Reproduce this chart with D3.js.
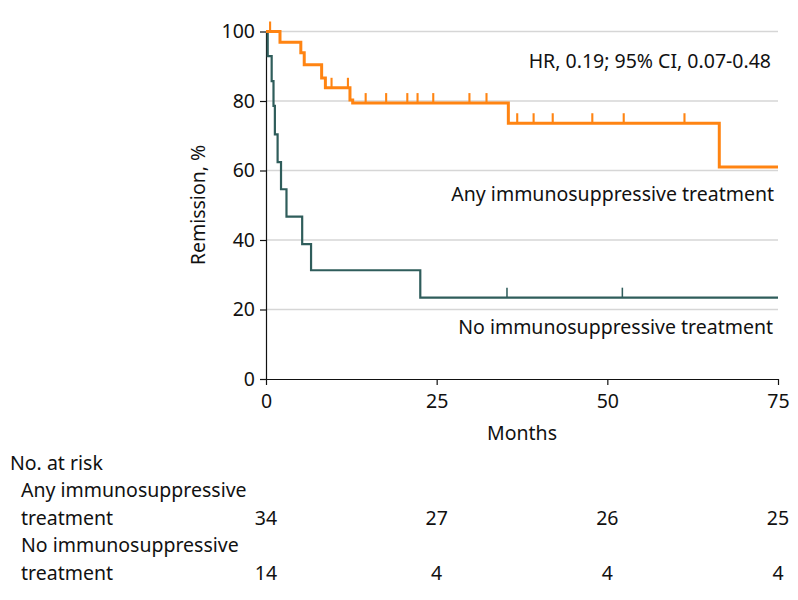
<!DOCTYPE html>
<html><head><meta charset="utf-8">
<script src="https://cdn.jsdelivr.net/npm/d3@7"></script>
<style>
body{margin:0;background:#fff;}
text{font-family:"Noto Sans",sans-serif;fill:#111;}
</style></head>
<body><svg id="c" width="798" height="600"></svg>
<script>
// ---- data ----
const groups = ["Any immunosuppressive treatment", "No immunosuppressive treatment"];
const anyTimes = [0, 2.05, 5.1, 5.6, 8.15, 8.7, 12.3, 12.7, 35.5, 66.4, 75];
const anySurv  = [100, 96.9, 93.9, 90.4, 86.6, 83.8, 80.3, 79.4, 73.6, 61.0, 61.0];
const anyCensorTimes = [0.6, 9.6, 12.0, 14.6, 17.6, 20.7, 22.2, 24.5, 29.8, 32.3, 36.8, 39.2, 42.0, 47.8, 52.4, 61.3];
const noTimes = [0, 0.25, 0.83, 1.1, 1.3, 1.7, 2.2, 3.0, 5.3, 6.6, 22.6, 75];
const noSurv  = [100, 92.9, 85.7, 78.6, 70.4, 62.4, 54.6, 46.7, 38.8, 31.3, 23.4, 23.4];
const noCensorTimes = [35.3, 52.2];
const xTicks = [0, 25, 50, 75];
const yTicks = [0, 20, 40, 60, 80, 100];
const riskAny = [34, 27, 26, 25];
const riskNo = [14, 4, 4, 4];
const hrText = "HR, 0.19; 95% CI, 0.07-0.48";

// ---- layout ----
const svg = d3.select("#c");
const x = d3.scaleLinear().domain([0, 75]).range([266, 778]);
const y = d3.scaleLinear().domain([0, 100]).range([379, 31.5]);
const FS = 19.5;
const orange = "#FF8412", teal = "#2F5D5B";

// gridlines
svg.append("g").selectAll("line").data(yTicks.filter(d => d > 0)).join("line")
  .attr("x1", x(0)).attr("x2", x(75)).attr("y1", d => y(d)).attr("y2", d => y(d))
  .attr("stroke", "#d6d6d6").attr("stroke-width", 1.5);

// axes
const yAxis = svg.append("g").attr("transform", `translate(${x(0)},0)`)
  .call(d3.axisLeft(y).tickValues(yTicks).tickSize(6).tickPadding(5).tickSizeOuter(0));
const xAxis = svg.append("g").attr("transform", `translate(0,${y(0)})`)
  .call(d3.axisBottom(x).tickValues(xTicks).tickSize(6).tickPadding(9).tickSizeOuter(0));
[yAxis, xAxis].forEach(a => {
  a.select(".domain").attr("stroke", "#111").attr("stroke-width", 1.2);
  a.selectAll(".tick line").attr("stroke", "#111").attr("stroke-width", 1.2);
  a.selectAll("text").attr("font-size", FS).attr("font-family", null).attr("fill", "#111");
});

// curves
const line = d3.line().x(d => x(d[0])).y(d => y(d[1])).curve(d3.curveStepAfter);
function survAt(times, surv, t) {
  let v = surv[0];
  for (let i = 0; i < times.length; i++) if (times[i] <= t) v = surv[i];
  return v;
}
function drawCurve(times, surv, cens, color, w) {
  const pts = times.map((t, i) => [t, surv[i]]);
  svg.append("path").datum(pts).attr("d", line)
    .attr("fill", "none").attr("stroke", color).attr("stroke-width", w).attr("stroke-linejoin", "miter");
  svg.append("g").selectAll("line").data(cens).join("line")
    .attr("x1", d => x(d)).attr("x2", d => x(d))
    .attr("y1", d => y(survAt(times, surv, d)))
    .attr("y2", d => y(survAt(times, surv, d)) - 10)
    .attr("stroke", color).attr("stroke-width", w * 0.7);
}
drawCurve(noTimes, noSurv, noCensorTimes, teal, 2.2);
drawCurve(anyTimes, anySurv, anyCensorTimes, orange, 3);

// annotations
svg.append("text").attr("x", 771).attr("y", 68).attr("text-anchor", "end").attr("font-size", FS).text(hrText);
svg.append("text").attr("x", 774).attr("y", 201).attr("text-anchor", "end").attr("font-size", FS).text(groups[0]);
svg.append("text").attr("x", 773).attr("y", 334).attr("text-anchor", "end").attr("font-size", FS).text(groups[1]);

// axis titles
svg.append("text").attr("x", 522).attr("y", 440).attr("text-anchor", "middle").attr("font-size", FS).text("Months");
svg.append("text").attr("transform", "translate(205,205) rotate(-90)").attr("text-anchor", "middle").attr("font-size", FS).text("Remission, %");

// at-risk table
svg.append("text").attr("x", 10).attr("y", 470).attr("font-size", FS).text("No. at risk");
const rows = [
  {l1: "Any immunosuppressive", l2: "treatment", vals: riskAny, y1: 497, y2: 524.5},
  {l1: "No immunosuppressive", l2: "treatment", vals: riskNo, y1: 552, y2: 579.5}
];
rows.forEach(r => {
  svg.append("text").attr("x", 21).attr("y", r.y1).attr("font-size", FS).text(r.l1);
  svg.append("text").attr("x", 21).attr("y", r.y2).attr("font-size", FS).text(r.l2);
  svg.append("g").selectAll("text").data(r.vals).join("text")
    .attr("x", (d, i) => x(xTicks[i])).attr("y", r.y2)
    .attr("text-anchor", "middle").attr("font-size", FS).text(d => d);
});
</script></body></html>
